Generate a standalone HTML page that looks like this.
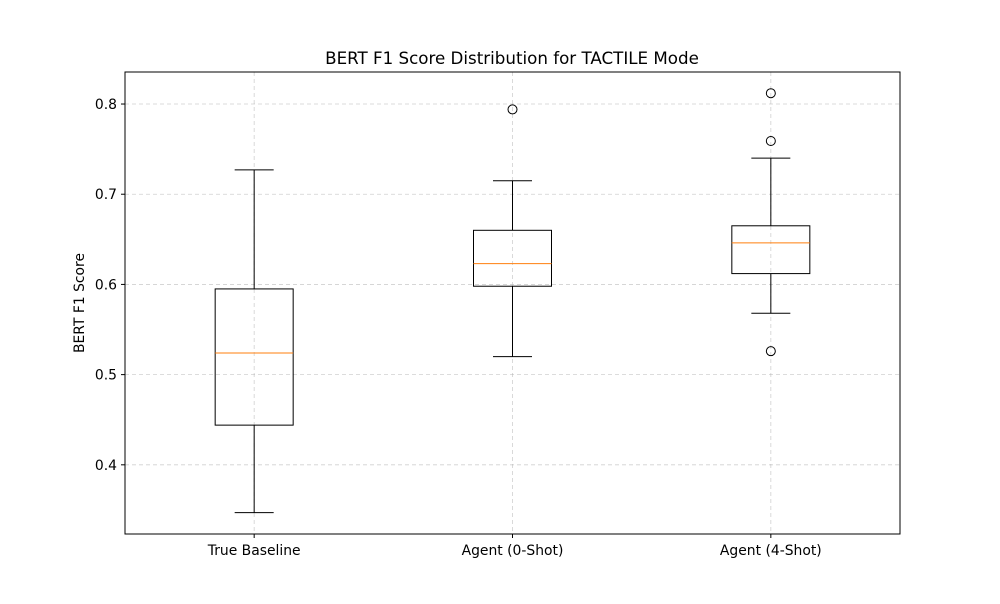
<!DOCTYPE html>
<html><head><meta charset="utf-8"><style>
body{margin:0;background:#fff;font-family:"DejaVu Sans","Liberation Sans",sans-serif}
</style></head><body>
<svg id="chart" width="1000" height="600" xmlns="http://www.w3.org/2000/svg" font-family="DejaVu Sans, Liberation Sans, sans-serif"></svg>
<script>
const categories=["True Baseline","Agent (0-Shot)","Agent (4-Shot)"];
const whiskerLow=[0.347,0.520,0.568];
const q1=[0.444,0.598,0.612];
const medians=[0.524,0.623,0.646];
const q3=[0.595,0.660,0.665];
const whiskerHigh=[0.727,0.715,0.740];
const outliers=[[],[0.794],[0.812,0.759,0.526]];
const yTicks=[0.4,0.5,0.6,0.7,0.8];
const yMin=0.3233,yMax=0.8355;
const L=125,R=900,T=72,B=534;
const svg=document.getElementById('chart');
const NS="http://www.w3.org/2000/svg";
function y(v){return B-(v-yMin)/(yMax-yMin)*(B-T);}
function x(i){return L+(R-L)*(i+0.5)/categories.length;}
function add(tag,attrs,name,text){const e=document.createElementNS(NS,tag);for(const k in attrs)e.setAttribute(k,attrs[k]);


if(text!==undefined)e.textContent=text;svg.appendChild(e);return e;}
add('rect',{x:0,y:0,width:1000,height:600,fill:'#fff'},'background');
yTicks.forEach(t=>{add('line',{x1:L,x2:R,y1:y(t),y2:y(t),stroke:'#b0b0b0','stroke-opacity':0.6,'stroke-dasharray':'4,3','stroke-width':0.8},'y-gridline');});
categories.forEach((c,i)=>{add('line',{x1:x(i),x2:x(i),y1:T,y2:B,stroke:'#b0b0b0','stroke-opacity':0.6,'stroke-dasharray':'4,3','stroke-width':0.8},'x-gridline');});
const hw=39,cw=19.5;
categories.forEach((c,i)=>{const cx=x(i);
add('line',{x1:cx,x2:cx,y1:y(q1[i]),y2:y(whiskerLow[i]),stroke:'#000'},'lower-whisker');
add('line',{x1:cx,x2:cx,y1:y(q3[i]),y2:y(whiskerHigh[i]),stroke:'#000'},'upper-whisker');
add('line',{x1:cx-cw,x2:cx+cw,y1:y(whiskerLow[i]),y2:y(whiskerLow[i]),stroke:'#000'},'lower-cap');
add('line',{x1:cx-cw,x2:cx+cw,y1:y(whiskerHigh[i]),y2:y(whiskerHigh[i]),stroke:'#000'},'upper-cap');
add('rect',{x:cx-hw,y:y(q3[i]),width:2*hw,height:y(q1[i])-y(q3[i]),fill:'none',stroke:'#000'},'box');
add('line',{x1:cx-hw,x2:cx+hw,y1:y(medians[i]),y2:y(medians[i]),stroke:'#ff7f0e'},'median-line');
outliers[i].forEach(o=>add('circle',{cx:cx,cy:y(o),r:4.5,fill:'none',stroke:'#000'},'outlier'));
add('line',{x1:cx,x2:cx,y1:B,y2:B+4,stroke:'#000'},'x-tick');
add('text',{x:cx,y:B+21,'text-anchor':'middle','font-size':13.9},'x-tick-label',c);
});
yTicks.forEach(t=>{add('line',{x1:L-4,x2:L,y1:y(t),y2:y(t),stroke:'#000'},'y-tick');
add('text',{x:L-8,y:y(t)+5,'text-anchor':'end','font-size':13.9},'y-tick-label',t.toFixed(1));});
add('rect',{x:L,y:T,width:R-L,height:B-T,fill:'none',stroke:'#000'},'plot-frame');
add('text',{x:512,y:64,'text-anchor':'middle','font-size':16.7},'chart-title','BERT F1 Score Distribution for TACTILE Mode');
add('text',{x:84,y:303,'text-anchor':'middle','font-size':13.9,transform:'rotate(-90 84 303)'},'y-axis-title','BERT F1 Score');
</script>
</body></html>
